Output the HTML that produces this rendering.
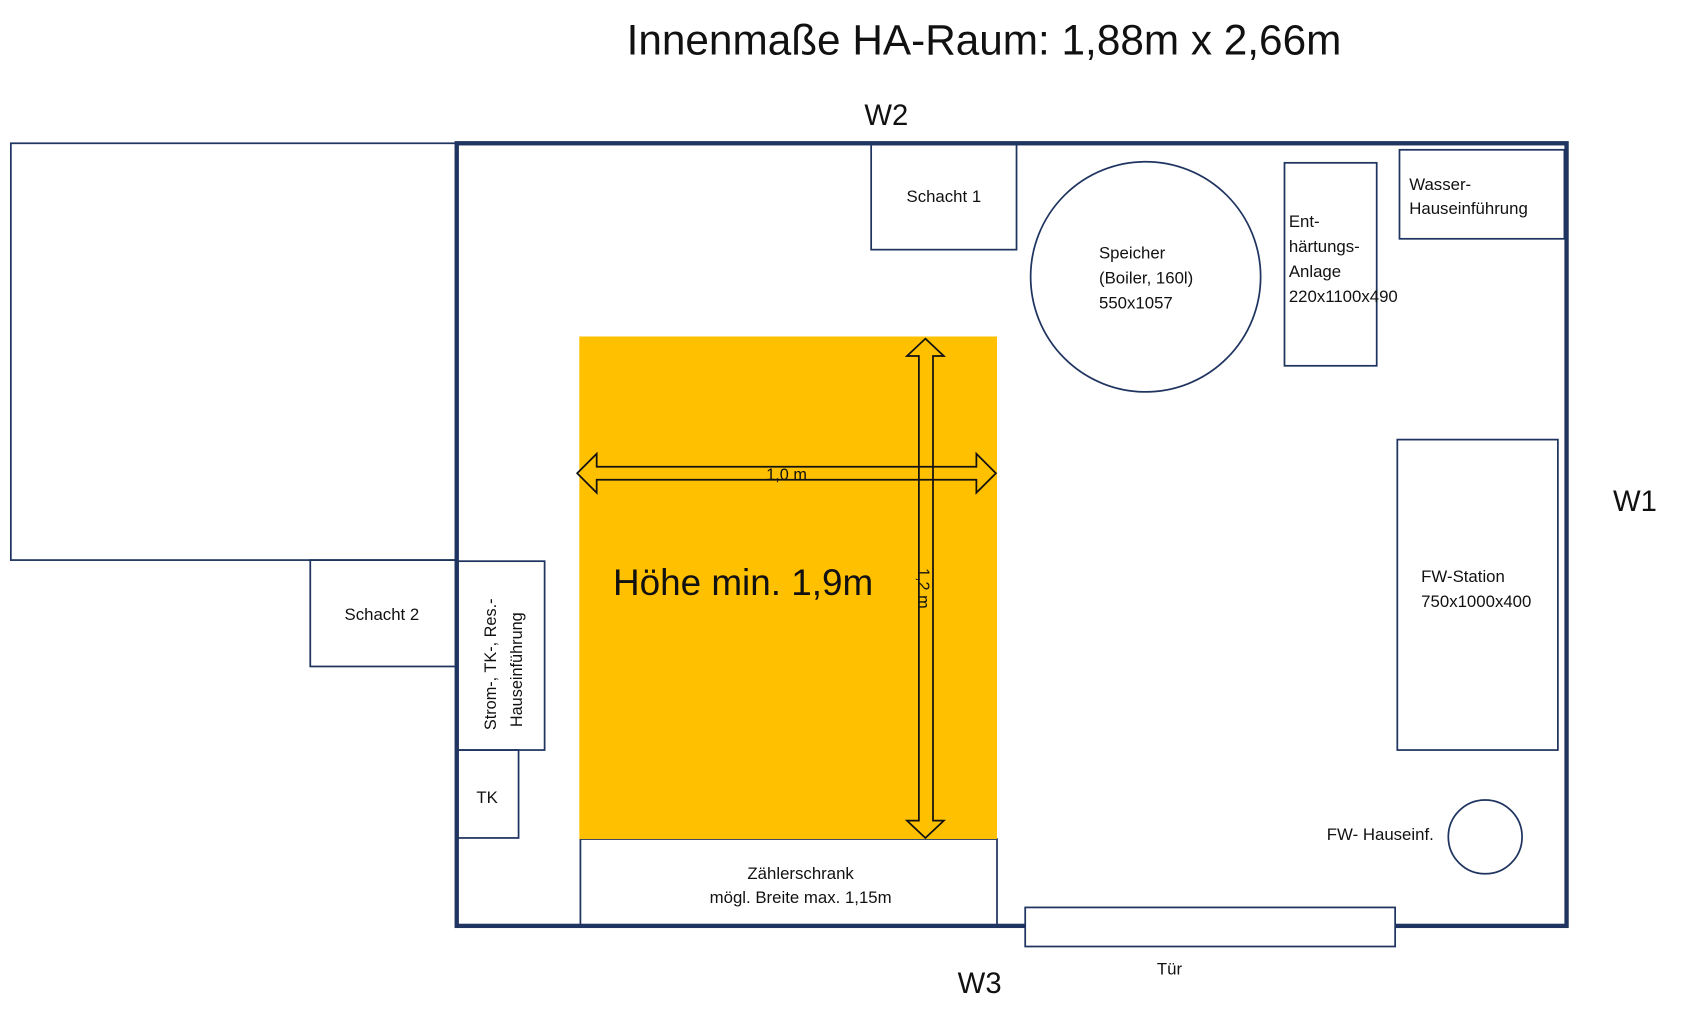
<!DOCTYPE html>
<html><head><meta charset="utf-8"><style>
html,body{margin:0;padding:0;background:#fff;}
svg{display:block;}
text{font-family:"Liberation Sans",sans-serif;fill:#111;}
</style></head><body>
<svg width="1700" height="1029" viewBox="0 0 1567 948" preserveAspectRatio="none" xmlns="http://www.w3.org/2000/svg">
<g fill="none" stroke="#1f3460" stroke-width="1.6">
<rect x="10" y="132" width="410" height="384"/>
<rect x="803" y="133" width="134" height="97"/>
<circle cx="1056" cy="255" r="106"/>
<rect x="1184" y="150" width="85" height="187"/>
<rect x="1290" y="138" width="152" height="82"/>
<rect x="286" y="516" width="134" height="98"/>
<rect x="422" y="517" width="80" height="174"/>
<rect x="422" y="691" width="56" height="81"/>
<rect x="535" y="773" width="384" height="80"/>
<rect x="1288" y="405" width="148" height="286"/>
<circle cx="1369" cy="771" r="34"/>
</g>
<rect x="534" y="310" width="385" height="463" fill="#FFC000"/>
<rect x="421" y="132" width="1023" height="721" fill="none" stroke="#1f3460" stroke-width="4"/>
<rect x="945" y="836" width="341" height="36" fill="#fff" stroke="#1f3460" stroke-width="1.6"/>
<g fill="none" stroke="#111" stroke-width="1.6">
<polygon points="532,436 550,418 550,430 900,430 900,418 918,436 900,454 900,442 550,442 550,454"/>
<polygon points="853,312 870,328 860,328 860,756 870,756 853,772 836,756 847,756 847,328 836,328"/>
</g>
<text x="907" y="50" font-size="39" text-anchor="middle">Innenmaße HA-Raum: 1,88m x 2,66m</text>
<text x="817" y="115" font-size="27" text-anchor="middle">W2</text>
<text x="1507" y="471" font-size="27" text-anchor="middle">W1</text>
<text x="903" y="915" font-size="27" text-anchor="middle">W3</text>
<text x="870" y="186" font-size="15.5" text-anchor="middle">Schacht 1</text>
<text x="1013" y="238" font-size="15.5">Speicher</text>
<text x="1013" y="261" font-size="15.5">(Boiler, 160l)</text>
<text x="1013" y="284" font-size="15.5">550x1057</text>
<text x="1188" y="209" font-size="15.5">Ent-</text>
<text x="1188" y="232" font-size="15.5">härtungs-</text>
<text x="1188" y="255" font-size="15.5">Anlage</text>
<text x="1188" y="278" font-size="15.5">220x1100x490</text>
<text x="1299" y="175" font-size="15.5">Wasser-</text>
<text x="1299" y="197" font-size="15.5">Hauseinführung</text>
<text x="725" y="442" font-size="15" text-anchor="middle">1,0 m</text>
<text transform="translate(846,542) rotate(90)" font-size="15" text-anchor="middle">1,2 m</text>
<text x="565" y="548" font-size="34">Höhe min. 1,9m</text>
<text x="352" y="571" font-size="15.5" text-anchor="middle">Schacht 2</text>
<text transform="translate(457,612) rotate(-90)" font-size="15" text-anchor="middle">Strom-, TK-, Res.-</text>
<text transform="translate(481,617) rotate(-90)" font-size="15" text-anchor="middle">Hauseinführung</text>
<text x="449" y="740" font-size="15.5" text-anchor="middle">TK</text>
<text x="738" y="810" font-size="15.5" text-anchor="middle">Zählerschrank</text>
<text x="738" y="832" font-size="15.5" text-anchor="middle">mögl. Breite max. 1,15m</text>
<text x="1310" y="536" font-size="15.5">FW-Station</text>
<text x="1310" y="559" font-size="15.5">750x1000x400</text>
<text x="1223" y="774" font-size="15.5">FW- Hauseinf.</text>
<text x="1078" y="898" font-size="15.5" text-anchor="middle">Tür</text>
</svg>
</body></html>
